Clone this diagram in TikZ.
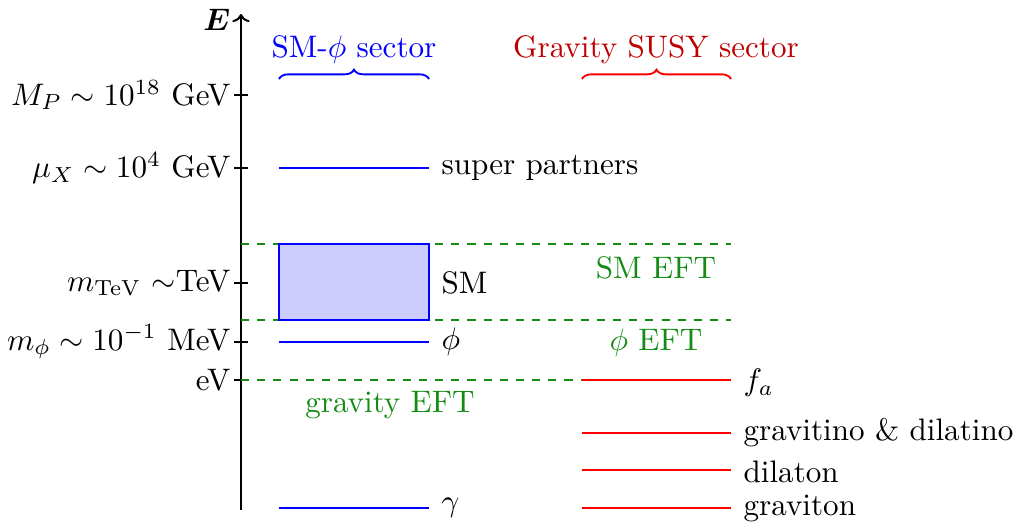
\documentclass[tikz,border=0pt]{standalone}
\usepackage{amsmath,bm}
\usetikzlibrary{decorations.pathreplacing,arrows.meta}
\definecolor{effgreen}{RGB}{20,140,20}
\definecolor{darkred}{RGB}{190,0,0}
\begin{document}
\begin{tikzpicture}[x=0.3215pt,y=-0.3215pt,
  axisline/.style={line width=0.65pt,-{To[length=2.6pt,width=5.6pt]}},
  tickline/.style={line width=0.65pt},
  smlevel/.style={blue,line width=0.65pt},
  gravlevel/.style={red,line width=0.65pt},
  efline/.style={effgreen,dash pattern=on 2.6pt off 2.6pt,line width=0.4pt},
  eftext/.style={text=effgreen},
  lvlabel/.style={anchor=west,inner sep=0pt},
  ticklabel/.style={anchor=east,inner sep=0pt},
  bracestyle/.style={decorate,decoration={brace,amplitude=3pt},line width=0.6pt}]
\useasboundingbox (0,0) rectangle (1016,525);
% axis
\coordinate (ax0) at (241,510);
\coordinate (ax1) at (241,14);
\draw[axisline] (ax0) -- (ax1);
\node[anchor=east,inner sep=1pt] (Elab) at (234,20) {$\bm{E}$};
% ticks
\foreach \yy/\nm/\lab in {95/tMP/{$M_P\sim10^{18}$ GeV},168/tMX/{$\mu_X\sim10^4$ GeV},283/tTeV/{$m_{\mathrm{TeV}}$ $\sim$TeV},342/tphi/{$m_\phi\sim10^{-1}$ MeV},380/teV/{eV}}{
  \coordinate (\nm a) at (234,\yy);
  \coordinate (\nm b) at (248,\yy);
  \draw[tickline] (\nm a) -- (\nm b);
  \node[ticklabel] (\nm l) at (231,\yy) {\lab};
}
% green dashed EFT lines
\coordinate (d1a) at (241,244); \coordinate (d1b) at (731,244);
\coordinate (d2a) at (241,320); \coordinate (d2b) at (731,320);
\coordinate (d3a) at (241,380); \coordinate (d3b) at (582,380);
\draw[efline] (d1a) -- (d1b);
\draw[efline] (d2a) -- (d2b);
\draw[efline] (d3a) -- (d3b);
% SM box
\coordinate (smA) at (279,244); \coordinate (smB) at (429,320);
\draw[smlevel,fill=blue!20] (smA) rectangle (smB);
% blue levels
\coordinate (sp1) at (279,168); \coordinate (sp2) at (429,168);
\coordinate (ph1) at (279,342); \coordinate (ph2) at (429,342);
\coordinate (ga1) at (279,508); \coordinate (ga2) at (429,508);
\draw[smlevel] (sp1) -- (sp2);
\draw[smlevel] (ph1) -- (ph2);
\draw[smlevel] (ga1) -- (ga2);
\node[lvlabel] (spl) at (441,168) {super partners};
\node[lvlabel] (sml) at (441,283) {SM};
\node[lvlabel] (phl) at (441,342) {$\phi$};
\node[lvlabel] (gal) at (441,508) {$\gamma$};
% red levels
\coordinate (fa1) at (582,380); \coordinate (fa2) at (731,380);
\coordinate (gd1) at (582,433); \coordinate (gd2) at (731,433);
\coordinate (dl1) at (582,470); \coordinate (dl2) at (731,470);
\coordinate (gr1) at (582,508); \coordinate (gr2) at (731,508);
\draw[gravlevel] (fa1) -- (fa2);
\draw[gravlevel] (gd1) -- (gd2);
\draw[gravlevel] (dl1) -- (dl2);
\draw[gravlevel] (gr1) -- (gr2);
\node[lvlabel] (fal) at (743,383) {$f_a$};
\node[lvlabel] (gdl) at (743,433) {gravitino \& dilatino};
\node[lvlabel] (dll) at (743,472) {dilaton};
\node[lvlabel] (grl) at (743,508) {graviton};
% EFT labels
\node[eftext] (smeft) at (656,268) {SM EFT};
\node[eftext] (phieft) at (656,343) {$\phi$ EFT};
\node[eftext] (graveft) at (390,405) {gravity EFT};
% braces
\coordinate (b1a) at (279,79); \coordinate (b1b) at (429,79);
\coordinate (b2a) at (582,79); \coordinate (b2b) at (731,79);
\draw[bracestyle,blue] (b1a) -- (b1b);
\draw[bracestyle,red] (b2a) -- (b2b);
\node[text=blue] (smsec) at (354,50) {SM-$\phi$ sector};
\node[text=darkred] (gravsec) at (656,50) {Gravity SUSY sector};
\end{tikzpicture}
\end{document}
